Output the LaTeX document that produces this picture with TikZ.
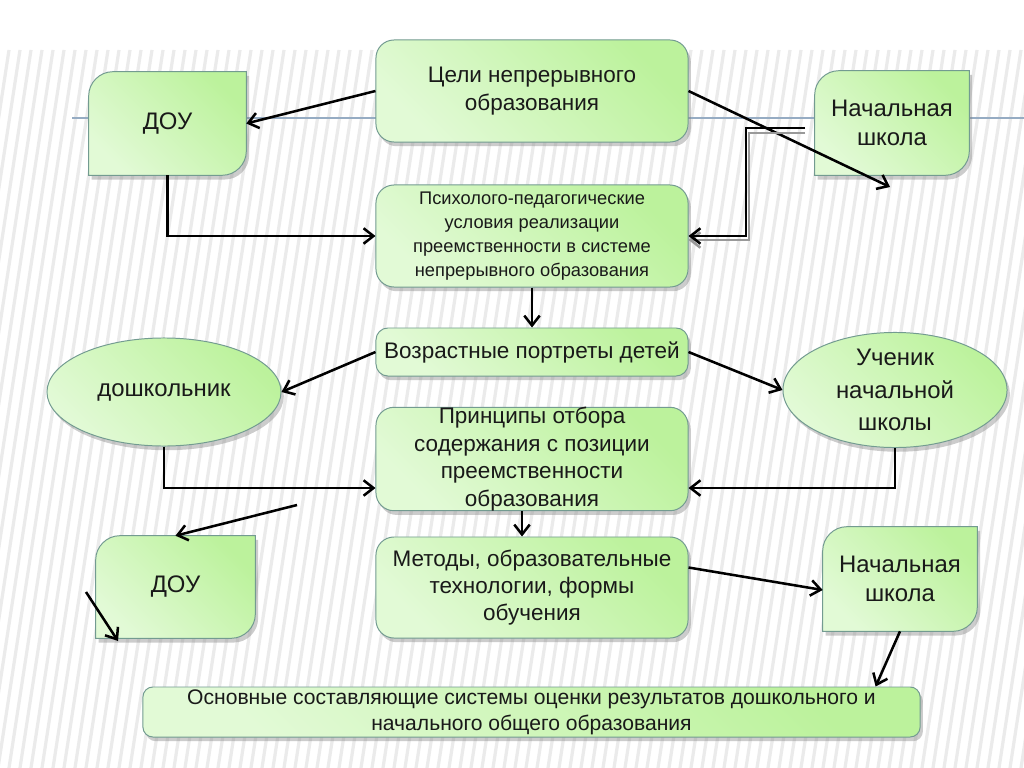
\documentclass[tikz,border=0pt]{standalone}
\usepackage{fontspec}
\setmainfont{Liberation Sans}
\usetikzlibrary{shadows,arrows.meta,calc,shapes.geometric}
\pgfdeclarelayer{bgl}
\pgfdeclarelayer{shp}
\pgfsetlayers{bgl,shp,main}
\definecolor{bordc}{RGB}{115,155,145}
\definecolor{gA}{RGB}{226,250,214}
\definecolor{gB}{RGB}{188,242,156}
\definecolor{hl}{RGB}{150,172,195}
\tikzset{
  greenfill/.style={top color=gB, bottom color=gA, shading angle=-45},
  shadowed/.style={drop shadow={shadow xshift=2pt, shadow yshift=-3pt, opacity=0.4}},
  rbox/.style={draw=bordc, line width=0.7pt, rounded corners=0.45cm, greenfill, shadowed,
    minimum width=7.8cm, inner sep=0pt, align=center, text=black!90,
    font=\fontsize{16pt}{19.5pt}\selectfont},
  dbox/.style={inner sep=0pt, align=center, text=black!90,
    font=\fontsize{17pt}{21pt}\selectfont},
  diagstyle/.style={draw=bordc, line width=0.7pt, greenfill, shadowed},
  ebox/.style={ellipse, draw=bordc, line width=0.7pt, greenfill, shadowed, inner sep=0pt,
    align=center, text=black!90, font=\fontsize{17pt}{23pt}\selectfont},
  conn/.style={line width=1.8pt, black, -{Straight Barb[length=7pt,width=11pt,line width=1.8pt]}},
  stripe/.style={black!8, line width=0.08cm},
  hline/.style={hl, line width=0.8pt}
}
\newcommand{\diagshp}[1]{%
  \path[diagstyle] (#1.south west) -- ($(#1.north west)+(0,24)$)
    .. controls ($(#1.north west)+(0,11)$) and ($(#1.north west)+(11,0)$) .. ($(#1.north west)+(24,0)$)
    -- (#1.north east)
    -- ($(#1.south east)+(0,-24)$)
    .. controls ($(#1.south east)+(0,-11)$) and ($(#1.south east)+(-11,0)$) .. ($(#1.south east)+(-24,0)$)
    -- cycle;}
\begin{document}
\begin{tikzpicture}[x=0.025cm,y=-0.025cm]
\useasboundingbox (0,0) rectangle (1024,768);
\begin{pgfonlayer}{bgl}
  \fill[white] (0,0) rectangle (1024,768);
  \foreach \i in {-200,-189,...,1100}{\draw[stripe] (\i+110,50) -- (\i,768);}
  \draw[hline] (72,118) -- (1024,118);
\end{pgfonlayer}

% nodes
\node[rbox, minimum height=2.55cm] (cel) at (532,91) {Цели непрерывного\\образования};
\node[dbox, minimum width=3.925cm, minimum height=2.575cm] (doua) at (167.5,123.5) {ДОУ};
\node[dbox, minimum width=3.85cm, minimum height=2.6cm] (nacha) at (892,123) {Начальная\\школа};
\node[rbox, minimum height=2.55cm, font=\fontsize{13pt}{17pt}\selectfont] (psy) at (532,236)
  {Психолого-педагогические\\условия реализации\\преемственности в системе\\непрерывного образования};
\node[rbox, minimum height=1.2cm, rounded corners=0.3cm] (voz) at (532,352) {Возрастные портреты детей};
\node[ebox, minimum width=5.85cm, minimum height=2.7cm] (dosh) at (164,392) {дошкольник};
\node[ebox, minimum width=5.6cm, minimum height=2.6cm] (uch) at (895,390) {Ученик\\начальной\\школы};
\node[rbox, minimum height=2.55cm] (pri) at (532,459)
  {Принципы отбора\\содержания с позиции\\преемственности\\образования};
\node[dbox, minimum width=3.975cm, minimum height=2.55cm] (doub) at (175.5,587) {ДОУ};
\node[rbox, minimum height=2.525cm] (met) at (532,587.5)
  {Методы, образовательные\\технологии, формы\\обучения};
\node[dbox, minimum width=3.85cm, minimum height=2.6cm] (nachb) at (900,579) {Начальная\\школа};
\node[rbox, minimum width=19.425cm, minimum height=1.25cm, rounded corners=0.25cm,
  font=\fontsize{15pt}{18.5pt}\selectfont] (osn) at (531.5,712)
  {Основные составляющие системы оценки результатов дошкольного и\\начального общего образования};

\begin{pgfonlayer}{shp}
  \diagshp{doua}
  \diagshp{nacha}
  \diagshp{doub}
  \diagshp{nachb}
\end{pgfonlayer}

% free ends
\coordinate (e1) at (890,187);
\coordinate (d0) at (805,128);
\coordinate (f1) at (297,505);
\coordinate (f2) at (86,592);
\coordinate (f3) at (118,641);

% connectors
\draw[conn] (cel.west) -- (doua.east);
\draw[conn] (cel.east) -- (e1);
\draw[conn, black!40] ($(d0)+(0,5)$) -- ++(-56,0) |- ($(psy.east)+(0,4)$);
\draw[conn] (d0) -- ++(-59,0) |- (psy.east);
\draw[conn] (doua.south) |- (psy.west);
\draw[conn] (psy.south) -- (voz.north);
\draw[conn] (voz.west) -- (dosh.east);
\draw[conn] (voz.east) -- (uch.west);
\draw[conn] (dosh.south) |- ($(pri.west)+(0,29)$);
\draw[conn] (uch.south) |- ($(pri.east)+(0,29)$);
\draw[conn] ($(pri.south)+(-10,0)$) -- ($(met.north)+(-10,0)$);
\draw[conn] (f1) -- (doub.north);
\draw[conn] (f2) -- (f3);
\draw[conn] ($(met.east)+(0,-20)$) -- ($(nachb.west)+(0,11)$);
\draw[conn] (nachb.south) -- ($(osn.north east)+(-45,0)$);
\end{tikzpicture}
\end{document}
